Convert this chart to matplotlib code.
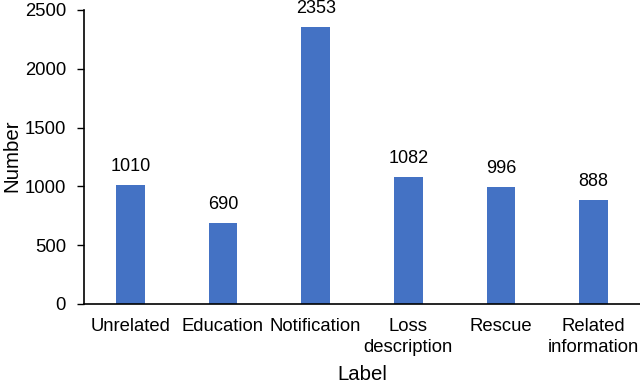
import matplotlib
matplotlib.use("Agg")
import matplotlib.pyplot as plt

categories = ["Unrelated", "Education", "Notification", "Loss\ndescription",
              "Rescue", "Related\ninformation"]
counts = [1010, 690, 2353, 1082, 996, 888]

plt.rcParams["font.family"] = ["Liberation Sans", "DejaVu Sans"]
plt.rcParams["font.size"] = 13.3

fig = plt.figure(figsize=(6.4, 3.85), dpi=100)
ax = fig.add_axes([84 / 640, 81 / 385, 556 / 640, 294 / 385])

x = range(len(categories))
ax.bar(x, counts, width=0.31, color="#4472C4")
for xi, v in zip(x, counts):
    ax.text(xi, v + 85, str(v), ha="center", va="bottom", fontsize=13)

ax.set_xlim(-0.5, len(categories) - 0.5)
ax.set_ylim(0, 2500)
ax.set_yticks(range(0, 2501, 500))
ax.set_xticks(list(x))
ax.set_xticklabels(categories, linespacing=1.3)
ax.tick_params(axis="x", length=0, pad=10)
ax.tick_params(axis="y", length=5, width=1, pad=8)
for s in ("top", "right"):
    ax.spines[s].set_visible(False)
for s in ("left", "bottom"):
    ax.spines[s].set_linewidth(1.2)

# axis titles placed to match the reference layout
fig.text(362 / 640, 1 - 375 / 385, "Label", ha="center", va="center",
         fontsize=14.7)
fig.text(12 / 640, 1 - 156 / 385, "Number", ha="center", va="center",
         rotation=90, fontsize=14.7)

fig.savefig("out.png", dpi=100)
